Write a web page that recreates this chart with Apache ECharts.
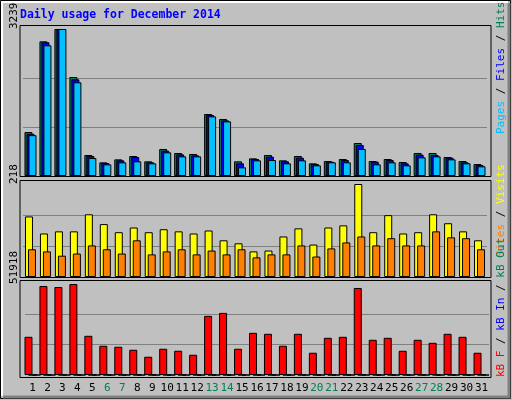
<!DOCTYPE html>
<html><head><meta charset="utf-8">
<script src="https://cdn.jsdelivr.net/npm/echarts@6/dist/echarts.min.js"></script>
<style>html,body{margin:0;padding:0;background:#c0c0c0}#c{width:512px;height:400px}</style>
</head><body><div id="c"></div>
<script>
const days = ['1','2','3','4','5','6','7','8','9','10','11','12','13','14','15','16','17','18','19','20','21','22','23','24','25','26','27','28','29','30','31'];
const weekend = ['6','7','13','14','20','21','27','28'];
const hits  = [969,2967,3239,2181,463,301,367,440,323,595,507,485,1366,1256,323,389,463,345,440,279,330,374,727,330,374,308,507,507,418,330,264];
const files = [930,2945,3239,2130,440,286,345,418,301,558,477,455,1344,1226,279,375,426,323,404,264,316,352,683,316,352,279,470,463,404,301,242];
const pages = [900,2879,3239,2064,396,257,301,323,279,521,433,433,1314,1204,191,345,352,279,345,235,301,301,595,257,301,235,411,433,367,279,213];
const visits = [142,102,107,107,147,124,105,116,105,112,107,102,109,86,79,60,62,95,114,76,116,121,218,105,145,102,105,147,126,107,86];
const sites  = [65,60,50,55,74,65,55,86,53,60,65,53,62,53,65,46,53,53,74,48,67,81,95,74,91,74,74,107,93,91,65];
const kbF = [21790,50780,50210,51918,22360,16680,16110,14400,10420,14970,13830,11560,33730,35430,14970,24060,23500,16680,23500,12700,21220,21790,49650,20090,21220,13830,20090,18380,23500,21790,12700];
const kbIn = days.map(() => 0);
const kbOut = days.map(() => 0);
const maxHits = 3239, maxVisits = 218, maxKB = 51918;

const font = 'DejaVu Sans Mono';
const grids = [
  {left: 23, right: 25, top: 29, bottom: 224},
  {left: 23, right: 25, top: 184, bottom: 123},
  {left: 25, right: 23, top: 284, bottom: 25}
];
const split = ['transparent', '#808080', '#808080', 'transparent'];
const yAx = (i, max) => ({gridIndex: i, min: 0, max: max, interval: max / 3,
  axisLabel: {show: false}, axisLine: {show: false}, axisTick: {show: false},
  splitLine: {lineStyle: {color: split, width: 1}}});
const xAx = (i, show) => ({gridIndex: i, type: 'category', data: days,
  axisLine: {show: false}, axisTick: {show: false},
  axisLabel: {show: show, interval: 0, fontFamily: font, fontSize: 11, margin: 8,
    color: (v) => weekend.includes(v) ? '#00805a' : '#000'}});
const bar = (name, data, i, color, w, gap) => ({name: name, type: 'bar', data: data,
  xAxisIndex: i, yAxisIndex: i, barWidth: w, barGap: gap, animation: false,
  itemStyle: {color: color, borderColor: '#000', borderWidth: 1}});

const rot = (x, y, rich, text) => ({type: 'text', x: x, y: y, rotation: Math.PI / 2,
  style: {text: text, rich: rich, font: '11px ' + font, align: 'left', verticalAlign: 'middle'}});
const panel = (y, h) => ({type: 'rect', shape: {x: 20, y: y, width: 471, height: h},
  style: {fill: 'none', stroke: '#000', lineWidth: 1}, z: 10});

const chart = echarts.init(document.getElementById('c'));
chart.setOption({
  backgroundColor: '#c0c0c0',
  grid: grids,
  xAxis: [xAx(0, false), xAx(1, false), xAx(2, true)],
  yAxis: [yAx(0, maxHits), yAx(1, maxVisits), yAx(2, maxKB)],
  series: [
    bar('Hits', hits, 0, '#00805a', 8, '-75%'),
    bar('Files', files, 0, '#0000ff', 8, '-75%'),
    bar('Pages', pages, 0, '#00c0ff', 8, '-75%'),
    bar('Visits', visits, 1, '#ffff00', 8, '-62.5%'),
    bar('Sites', sites, 1, '#ff8000', 8, '-62.5%'),
    bar('kB F', kbF, 2, '#ff0000', 8, '-50%'),
    bar('kB In', kbIn, 2, '#0000ff', 8, '-50%'),
    bar('kB Out', kbOut, 2, '#00805a', 8, '-50%')
  ],
  graphic: [
    {type: 'rect', shape: {x: 0.5, y: 0.5, width: 510, height: 398}, style: {fill: 'none', stroke: '#000'}},
    {type: 'polyline', shape: {points: [[2, 396], [2, 2], [508, 2]]}, style: {stroke: '#fff', lineWidth: 2, fill: 'none'}},
    {type: 'polyline', shape: {points: [[509, 3], [509, 397], [3, 397]]}, style: {stroke: '#808080', lineWidth: 3, fill: 'none'}},
    panel(25.5, 151), panel(180.5, 97), panel(280.5, 97),
    {type: 'text', x: 20, y: 15, style: {text: 'Daily usage for December 2014', font: 'bold 11.5px ' + font, fill: '#0000ff', verticalAlign: 'middle'}},
    rot(14, 29, null, String(maxHits)),
    rot(14, 184, null, String(maxVisits)),
    rot(14, 284, null, String(maxKB)),
    {type: 'text', x: 501, y: 134, rotation: Math.PI / 2, style: {
      text: '{a|Pages} / {b|Files} / {c|Hits}', font: '11px ' + font, verticalAlign: 'middle',
      rich: {a: {fill: '#00c0ff', font: '11px ' + font}, b: {fill: '#0000ff', font: '11px ' + font}, c: {fill: '#00805a', font: '11px ' + font}}}},
    {type: 'text', x: 501, y: 257, rotation: Math.PI / 2, style: {
      text: '{a|Sites} / {b|Visits}', font: '11px ' + font, verticalAlign: 'middle',
      rich: {a: {fill: '#ff8000', font: '11px ' + font}, b: {fill: '#ffff00', font: '11px ' + font}}}},
    {type: 'text', x: 501, y: 377, rotation: Math.PI / 2, style: {
      text: '{a|kB F} / {b|kB In} / {c|kB Out}', font: '11px ' + font, verticalAlign: 'middle',
      rich: {a: {fill: '#ff0000', font: '11px ' + font}, b: {fill: '#0000ff', font: '11px ' + font}, c: {fill: '#00805a', font: '11px ' + font}}}}
  ]
});
</script></body></html>
